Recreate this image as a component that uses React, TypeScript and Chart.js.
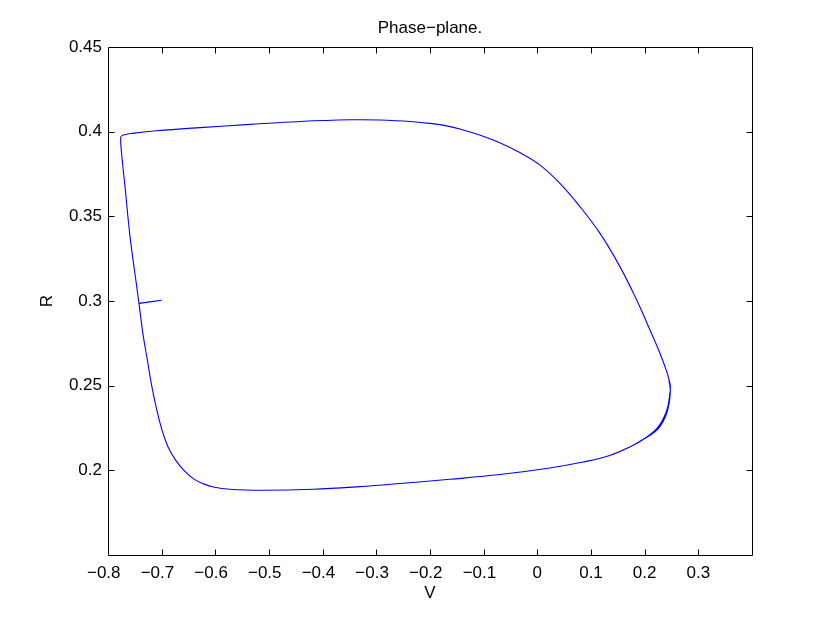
import React, { useEffect, useRef } from "react";
import { Chart, registerables } from "chart.js";

Chart.register(...registerables);

const chartTitle = "Phase\u2212plane.";
const xLabel = "V";
const yLabel = "R";

const xMin = -0.8;
const xMax = 0.4;
const yMin = 0.15;
const yMax = 0.45;

// Initial transient from the starting point onto the limit cycle
const transientV = [-0.700, -0.722, -0.7423];
const transientR = [0.3004, 0.2995, 0.2986];

// Limit-cycle trajectory (V, R)
const cycleV = [
  // first pass: left branch down, bottom branch right
  -0.7423, -0.7343, -0.7266, -0.7186, -0.7100, -0.7000, -0.6883, -0.6740, -0.6585, -0.6411,
  -0.6220, -0.6039, -0.5728, -0.5108, -0.4177, -0.3300, -0.2563, -0.1631, -0.0700, 0.0231,
  0.0851, 0.1348, 0.1721, 0.1950, 0.2240, 0.2410, 0.2475,
  // right branch up, top branch left
  0.2478, 0.2450, 0.2404, 0.2279, 0.2093, 0.1845, 0.1534, 0.1162, 0.0790, 0.0417,
  0.0045, -0.0328, -0.0700, -0.1073, -0.1384, -0.1690, -0.2004, -0.2315, -0.2935, -0.3494,
  -0.4425, -0.5356, -0.6287, -0.7100, -0.7550, -0.7715, -0.7763,
  // second pass: left branch down, bottom branch right
  -0.7740, -0.7683, -0.7590, -0.7466, -0.7423, -0.7343, -0.7266, -0.7186, -0.7100, -0.7000,
  -0.6883, -0.6740, -0.6585, -0.6411, -0.6220, -0.6039, -0.5728, -0.5108, -0.4177, -0.3300,
  -0.2563, -0.1631, -0.0700, 0.0231, 0.0851, 0.1348, 0.1721, 0.1907, 0.2249, 0.2416,
  0.2478, 0.2450,
];
const cycleR = [
  0.2986, 0.2794, 0.2650, 0.2500, 0.2370, 0.2245, 0.2139, 0.2060, 0.2000, 0.1951,
  0.1920, 0.1902, 0.1888, 0.1882, 0.1888, 0.1904, 0.1922, 0.1947, 0.1975, 0.2014,
  0.2049, 0.2088, 0.2138, 0.2178, 0.2252, 0.2352, 0.2466,
  0.2500, 0.2540, 0.2590, 0.2696, 0.2833, 0.3010, 0.3206, 0.3402, 0.3559, 0.3696,
  0.3804, 0.3877, 0.3935, 0.3980, 0.4010, 0.4034, 0.4049, 0.4059, 0.4069, 0.4070,
  0.4060, 0.4043, 0.4024, 0.4005, 0.3990, 0.3980, 0.3967,
  0.3850, 0.3676, 0.3382, 0.3088, 0.2986, 0.2794, 0.2650, 0.2500, 0.2370, 0.2245,
  0.2139, 0.2060, 0.2000, 0.1951, 0.1920, 0.1902, 0.1888, 0.1882, 0.1888, 0.1904,
  0.1922, 0.1947, 0.1975, 0.2014, 0.2049, 0.2088, 0.2138, 0.2171, 0.2245, 0.2343,
  0.2461, 0.2540,
];

const FONT = 'Helvetica, "Liberation Sans", Arial, sans-serif';
const LINE_COLOR = "rgb(0,0,255)";

const fmt = (v: number) => {
  const r = Math.round(v * 100) / 100;
  const s = String(r);
  return r < 0 ? s.replace("-", "\u2212") + "\u2002" : s;
};

const frameTicks = {
  id: "frameTicks",
  afterDraw(chart: any) {
    const { ctx, chartArea, scales } = chart;
    const L = Math.round(chartArea.left) + 0.5;
    const R = Math.round(chartArea.right) + 0.5;
    const T = Math.round(chartArea.top) + 0.5;
    const B = Math.round(chartArea.bottom) + 0.5;
    const len = 6;
    ctx.save();
    ctx.strokeStyle = "#000";
    ctx.lineWidth = 1;
    ctx.beginPath();
    ctx.rect(L, T, R - L, B - T);
    ctx.stroke();
    ctx.beginPath();
    scales.x.ticks.forEach((t: any) => {
      if (t.value <= xMin + 1e-6 || t.value >= xMax - 1e-6) return;
      const px = Math.round(scales.x.getPixelForValue(t.value)) + 0.5;
      ctx.moveTo(px, B);
      ctx.lineTo(px, B - len);
      ctx.moveTo(px, T);
      ctx.lineTo(px, T + len);
    });
    scales.y.ticks.forEach((t: any) => {
      if (t.value <= yMin + 1e-6 || t.value >= yMax - 1e-6) return;
      const py = Math.round(scales.y.getPixelForValue(t.value)) + 0.5;
      ctx.moveTo(L, py);
      ctx.lineTo(L + len, py);
      ctx.moveTo(R, py);
      ctx.lineTo(R - len, py);
    });
    ctx.stroke();
    ctx.restore();
  },
};

export default function App() {
  const ref = useRef<HTMLCanvasElement | null>(null);

  useEffect(() => {
    if (!ref.current) return;
    const transientPts = transientV.map((v, i) => ({ x: v, y: transientR[i] }));
    const cyclePts = cycleV.map((v, i) => ({ x: v, y: cycleR[i] }));
    const chart = new Chart(ref.current, {
      type: "scatter",
      data: {
        datasets: [
          {
            label: "transient",
            data: transientPts,
            showLine: true,
            borderColor: LINE_COLOR,
            borderWidth: 1.1,
            pointRadius: 0,
            tension: 0,
            fill: false,
          },
          {
            label: "cycle",
            data: cyclePts,
            showLine: true,
            borderColor: LINE_COLOR,
            borderWidth: 1.1,
            pointRadius: 0,
            tension: 0.4,
            fill: false,
          },
        ],
      },
      options: {
        animation: false,
        responsive: true,
        maintainAspectRatio: false,
        layout: { padding: { left: 30, right: 0, top: 0, bottom: 0 } },
        plugins: {
          legend: { display: false },
          tooltip: { enabled: false },
          title: {
            display: true,
            text: chartTitle,
            color: "#000",
            font: { family: FONT, size: 17, weight: "normal" },
            padding: { top: 18, bottom: 8.6 },
          },
        },
        scales: {
          x: {
            type: "linear",
            min: xMin,
            max: xMax,
            afterFit: (s: any) => {
              s.height = 70;
            },
            grid: { display: false, drawTicks: false },
            border: { display: false },
            ticks: {
              stepSize: 0.1,
              padding: 8,
              color: "#000",
              font: { family: FONT, size: 17 },
              maxRotation: 0,
              autoSkip: false,
              callback: (v: any) => (Number(v) >= xMax - 1e-6 ? "" : fmt(Number(v))),
            },
            title: {
              display: true,
              text: xLabel,
              color: "#000",
              font: { family: FONT, size: 17 },
              padding: { top: 0, bottom: 21 },
            },
          },
          y: {
            type: "linear",
            min: yMin,
            max: yMax,
            afterFit: (s: any) => {
              s.width = 78;
            },
            grid: { display: false, drawTicks: false },
            border: { display: false },
            ticks: {
              stepSize: 0.05,
              padding: 6,
              color: "#000",
              font: { family: FONT, size: 17 },
              autoSkip: false,
              callback: (v: any) => (Number(v) <= yMin + 1e-6 ? "" : fmt(Number(v))),
            },
            title: {
              display: true,
              text: yLabel,
              color: "#000",
              font: { family: FONT, size: 17 },
              padding: { top: 7.3, bottom: 0 },
            },
          },
          y2: {
            type: "linear",
            position: "right",
            min: yMin,
            max: yMax,
            afterFit: (s: any) => {
              s.width = 78;
            },
            grid: { display: false, drawTicks: false },
            border: { display: false },
            ticks: { display: false },
          },
        },
      },
      plugins: [frameTicks],
    });
    return () => chart.destroy();
  }, []);

  return (
    <div style={{ position: "fixed", left: 0, top: 0, width: 830, height: 625, background: "#fff" }}>
      <canvas ref={ref} />
    </div>
  );
}
